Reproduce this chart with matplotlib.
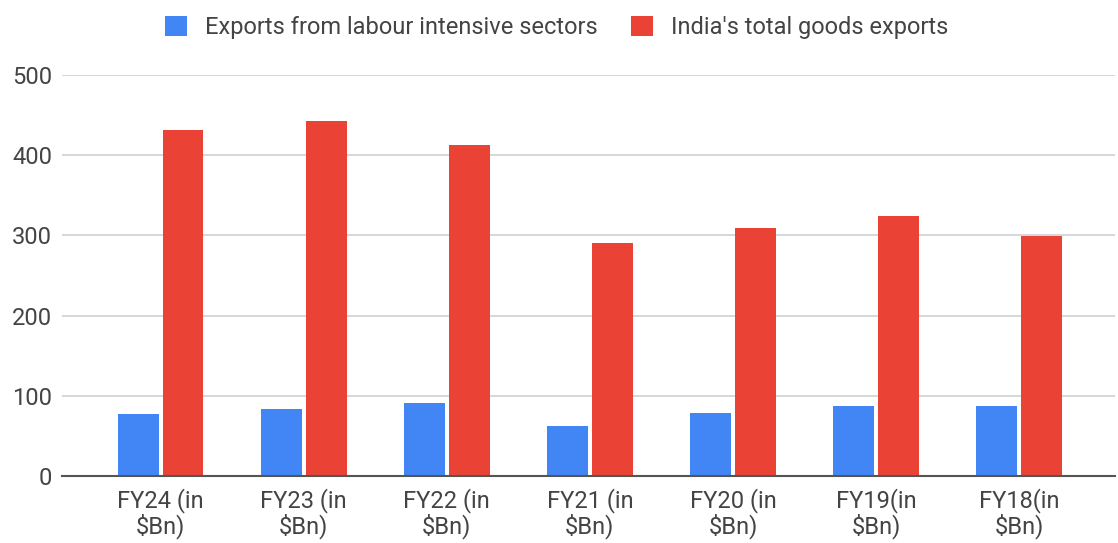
import matplotlib.pyplot as plt
import numpy as np

plt.rcParams['font.family'] = ['Roboto', 'DejaVu Sans']

categories = ["FY24 (in\n\\$Bn)", "FY23 (in\n\\$Bn)", "FY22 (in\n\\$Bn)",
              "FY21 (in\n\\$Bn)", "FY20 (in\n\\$Bn)", "FY19(in\n\\$Bn)",
              "FY18(in\n\\$Bn)"]
labour_intensive = [77, 84, 91, 62, 79, 87, 87]
total_exports = [431, 443, 413, 290, 309, 324, 299]

BLUE = "#4285f4"
RED = "#ea4335"
TEXT = "#444444"
FS = 17

fig = plt.figure(figsize=(11.18, 5.43), dpi=100)
ax = fig.add_axes([0.0555, 0.1234, 0.9415, 0.7386])

x = np.arange(len(categories))
w = 0.286
off = 0.157
ax.bar(x - off, labour_intensive, w, color=BLUE,
       label="Exports from labour intensive sectors", zorder=3)
ax.bar(x + off, total_exports, w, color=RED,
       label="India's total goods exports", zorder=3)

ax.set_xlim(-0.688, 6.666)
ax.set_ylim(0, 500)
ax.set_yticks([0, 100, 200, 300, 400, 500])
ax.grid(axis="y", color="#d0d0d0", linewidth=1.2, zorder=0)
ax.set_xticks(x)
ax.set_xticklabels(categories, fontsize=FS, color=TEXT, linespacing=1.0)
ax.tick_params(axis="y", labelsize=FS, labelcolor=TEXT, length=0, pad=7)
ax.tick_params(axis="x", length=0, pad=9)
for s in ["top", "right", "left"]:
    ax.spines[s].set_visible(False)
ax.spines["bottom"].set_color("#555555")
ax.spines["bottom"].set_linewidth(1.5)
ax.spines["bottom"].set_zorder(4)

fig.legend(loc="upper center", bbox_to_anchor=(0.498, 1.01), ncol=2,
           frameon=False, fontsize=FS, labelcolor=TEXT,
           handlelength=0.93, handleheight=0.93, handletextpad=0.76,
           columnspacing=1.44)

fig.savefig("out.png", dpi=100)
